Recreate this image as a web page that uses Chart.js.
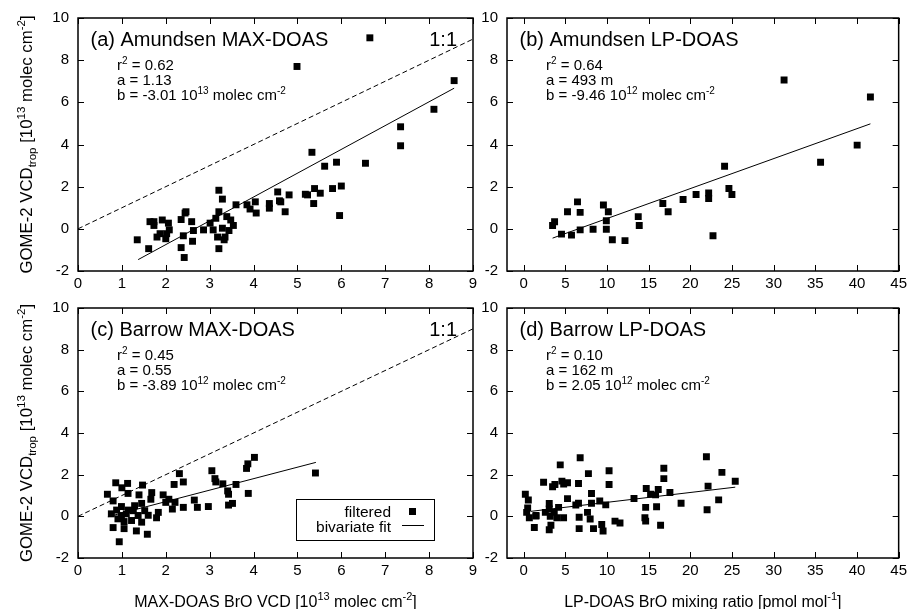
<!DOCTYPE html>
<html>
<head>
<meta charset="utf-8">
<script src="https://cdn.jsdelivr.net/npm/chart.js@4.4.1/dist/chart.umd.min.js"></script>
<style>
  body { margin: 0; background: #fff; width: 911px; height: 609px; position: relative; overflow: hidden; }
  canvas { position: absolute; }
</style>
</head>
<body>
<canvas id="stageA" width="490" height="300" style="left:0;top:0"></canvas>
<canvas id="stageB" width="436" height="300" style="left:475px;top:0"></canvas>
<canvas id="stageC" width="490" height="319" style="left:0;top:290px"></canvas>
<canvas id="stageD" width="436" height="319" style="left:475px;top:290px"></canvas>
<script>
// ---- tick labels ----
const ticksMax = [0, 1, 2, 3, 4, 5, 6, 7, 8, 9];
const ticksLp = [0, 5, 10, 15, 20, 25, 30, 35, 40, 45];
const ticksY = [-2, 0, 2, 4, 6, 8, 10];

// ---- (a) Amundsen MAX-DOAS ----
const amMaxX = [1.35, 1.61, 1.64, 1.73, 1.73, 1.80, 1.87, 1.92, 2.00, 2.02, 2.06, 2.08, 2.35, 2.35, 2.40, 2.42, 2.44, 2.46,
  2.59, 2.61, 2.63, 2.86, 3.01, 3.08, 3.14, 3.18, 3.21, 3.21, 3.21, 3.29, 3.29, 3.33, 3.35, 3.39, 3.44, 3.48, 3.54, 3.60,
  3.85, 3.92, 4.04, 4.06, 4.36, 4.36, 4.55, 4.59, 4.62, 4.72, 4.81, 4.99, 5.18, 5.23, 5.33, 5.37, 5.39, 5.52, 5.62, 5.80,
  5.89, 5.96, 6.00, 6.55, 6.65, 7.35, 7.35, 8.11, 8.57];
const amMaxY = [-0.52, -0.94, 0.34, 0.16, 0.34, -0.39, -0.23, 0.42, -0.47, -0.23, 0.27, -0.05, -0.89, 0.44, -0.33, -1.36, 0.75, 0.81,
  0.34, -0.59, -0.08, -0.05, 0.27, -0.05, 0.50, -0.39, 0.81, 1.83, -0.94, 1.41, 0.03, -0.52, -0.39, 0.58, -0.08, 0.42, 0.16, 1.14,
  1.14, 0.94, 1.28, 0.75, 1.20, 0.98, 1.75, 1.33, 1.28, 0.81, 1.61, 7.70, 1.64, 1.61, 3.63, 1.20, 1.91, 1.69, 2.97, 1.91,
  3.16, 0.63, 2.03, 3.11, 9.06, 3.94, 4.84, 5.67, 7.03];
const amMaxFitX = [1.37, 8.57];
const amMaxFitY = [-1.46, 6.67];

// ---- (b) Amundsen LP-DOAS ----
const amLpX = [3.47, 3.71, 4.54, 5.26, 5.74, 6.46, 6.78, 6.78, 8.33, 9.57, 9.92, 9.92, 10.16, 10.64, 12.16, 13.75, 13.87,
  16.70, 17.34, 19.13, 20.69, 22.20, 22.20, 22.72, 24.11, 24.63, 24.99, 31.25, 35.63, 40.02, 41.61];
const amLpY = [0.16, 0.34, -0.25, 0.81, -0.30, 1.28, 0.78, -0.05, -0.02, 1.13, 0.38, -0.02, 0.81, -0.52, -0.56, 0.58, 0.16,
  1.20, 0.81, 1.39, 1.63, 1.70, 1.44, -0.33, 2.97, 1.91, 1.63, 7.06, 3.16, 3.97, 6.25];
const amLpFitX = [3.47, 41.61];
const amLpFitY = [-0.44, 4.98];

// ---- (c) Barrow MAX-DOAS ----
const baMaxX = [4.02, 3.87, 3.84, 3.05, 2.31, 3.12, 3.14, 2.40, 2.19, 3.30, 3.60, 0.86, 1.13, 1.47, 1.00, 0.67, 1.14, 1.39,
  1.68, 3.41, 3.43, 3.88, 1.94, 1.66, 2.07, 2.00, 2.21, 2.65, 0.80, 1.45, 0.99, 2.15, 2.40, 2.72, 2.97, 3.52, 3.43, 1.83,
  1.26, 1.52, 0.76, 1.10, 1.37, 0.91, 1.22, 1.79, 1.45, 0.80, 1.05, 1.33, 1.58, 0.94, 5.41, 0.99, 1.29, 1.15, 0.88, 1.60, 1.05];
const baMaxY = [2.83, 2.52, 2.30, 2.19, 2.05, 1.81, 1.65, 1.65, 1.53, 1.56, 1.53, 1.61, 1.58, 1.50, 1.37, 1.06, 1.10, 1.03,
  1.14, 1.22, 1.06, 1.10, 1.03, 0.82, 0.82, 0.67, 0.67, 0.78, 0.74, 0.62, 0.47, 0.35, 0.43, 0.43, 0.47, 0.62, 0.54, 0.19,
  0.27, 0.27, 0.12, 0.12, 0.04, -0.12, -0.20, -0.07, -0.28, -0.54, -0.59, -0.70, -0.86, -1.22, 2.08, 0.04, 0.51, 0.30, 0.30, 0.05, -0.25];
const baMaxFitX = [0.68, 5.42];
const baMaxFitY = [-0.02, 2.59];

// ---- (d) Barrow LP-DOAS ----
const baLpX = [6.78, 21.93, 4.39, 16.82, 23.79, 10.25, 7.77, 16.82, 25.39, 2.39, 3.47, 3.75, 4.59, 5.26, 6.58, 10.25, 22.13,
  0.20, 8.14, 14.71, 16.15, 15.23, 15.83, 17.55, 0.56, 5.26, 13.24, 9.13, 8.14, 6.58, 6.26, 9.85, 3.07, 18.89, 23.40, 4.19,
  3.07, 14.64, 15.95, 22.01, 0.36, 1.48, 0.68, 2.60, 3.67, 4.79, 6.66, 7.98, 7.66, 14.55, 14.64, 10.96, 11.56, 1.28, 3.07,
  3.27, 6.66, 8.38, 9.37, 9.53, 16.43, 3.19, 0.48, 1.47, 3.99, 4.80];
const baLpY = [2.81, 2.86, 2.47, 2.31, 2.11, 2.19, 2.05, 1.81, 1.68, 1.64, 1.42, 1.53, 1.69, 1.61, 1.58, 1.53, 1.45,
  1.06, 1.10, 1.34, 1.29, 1.06, 1.03, 1.14, 0.78, 0.85, 0.86, 0.74, 0.63, 0.63, 0.54, 0.55, 0.62, 0.63, 0.79, 0.43,
  0.35, 0.43, 0.46, 0.32, 0.19, 0.04, -0.07, 0.19, 0.19, -0.07, -0.04, -0.13, 0.19, -0.07, -0.23, -0.23, -0.32, -0.54, -0.64,
  -0.43, -0.59, -0.59, -0.39, -0.70, -0.43, 0.00, 0.40, 0.01, -0.07, 1.55];
const baLpFitX = [0.88, 25.39];
const baLpFitY = [0.24, 1.40];

// 1:1 line
const oneX = [0, 9];
const oneY = [0, 9];

const FONT = "'Liberation Sans', Arial, Helvetica, sans-serif";

function pts(xs, ys) {
  return xs.map((v, i) => ({x: v, y: ys[i]}));
}

// テキスト(上付き・下付き付き)を描く
function drawRich(ctx, parts, x, y, align) {
  let w = 0;
  for (const p of parts) {
    ctx.font = p[1] + 'px ' + FONT;
    w += ctx.measureText(p[0]).width;
  }
  let cx = x;
  if (align === 'center') cx = x - w / 2;
  if (align === 'right') cx = x - w;
  ctx.textAlign = 'left';
  ctx.textBaseline = 'alphabetic';
  for (const p of parts) {
    ctx.font = p[1] + 'px ' + FONT;
    ctx.fillText(p[0], cx, y + (p[2] || 0));
    cx += ctx.measureText(p[0]).width;
  }
}

const yTitle = [['GOME-2 VCD', 16.8], ['trop', 11.5, 4], [' [10', 16.8], ['13', 11.5, -7], [' molec cm', 16.8], ['-2', 11.5, -7], [']', 16.8]];
const xTitleMax = [['MAX-DOAS BrO VCD [10', 16], ['13', 11, -7], [' molec cm', 16], ['-2', 11, -7], [']', 16]];
const xTitleLp = [['LP-DOAS BrO mixing ratio [pmol mol', 16], ['-1', 11, -7], [']', 16]];

function statLines(r2, a, b, exp) {
  return [
    [['r', 15], ['2', 10, -6], [' = ' + r2, 15]],
    [['a = ' + a, 15]],
    [['b = ' + b + ' 10', 15], [exp, 10, -6], [' molec cm', 15], ['-2', 10, -6]]
  ];
}

const framePlugin = {
  id: 'frame',
  afterDraw(chart) {
    const o = chart.options.plugins.frame;
    const {ctx, chartArea: a, scales: {x, y}} = chart;
    ctx.save();
    ctx.strokeStyle = '#000';
    ctx.fillStyle = '#000';
    // 内向きの目盛り
    ctx.lineWidth = 1;
    ctx.beginPath();
    for (const t of x.ticks) {
      const px = Math.round(x.getPixelForValue(t.value)) + 0.5;
      ctx.moveTo(px, a.bottom); ctx.lineTo(px, a.bottom - 6);
      ctx.moveTo(px, a.top); ctx.lineTo(px, a.top + 6);
    }
    for (const t of y.ticks) {
      const py = Math.round(y.getPixelForValue(t.value)) + 0.5;
      ctx.moveTo(a.left, py); ctx.lineTo(a.left + 6, py);
      ctx.moveTo(a.right, py); ctx.lineTo(a.right - 6, py);
    }
    ctx.stroke();
    ctx.lineWidth = 1.5;
    ctx.strokeRect(a.left, a.top, a.width, a.height);

    // パネル名
    drawRich(ctx, [[o.title, 20]], a.left + 12.5, a.top + 28, 'left');
    if (o.oneToOne) drawRich(ctx, [['1:1', 20]], a.right - 16, a.top + 28, 'right');
    o.stats.forEach((line, i) => drawRich(ctx, line, a.left + 39, a.top + 51.7 + i * 15, 'left'));

    if (o.yTitle) {
      ctx.save();
      ctx.translate(32, (a.top + a.bottom) / 2);
      ctx.rotate(-Math.PI / 2);
      drawRich(ctx, yTitle, 0, 0, 'center');
      ctx.restore();
    }
    if (o.xTitle) {
      drawRich(ctx, o.xTitle, (a.left + a.right) / 2, a.bottom + 49, 'center');
    }
    if (o.legend) {
      const bx = a.left + 218, by = a.top + 191;
      ctx.fillStyle = '#fff';
      ctx.fillRect(bx, by, 138, 41);
      ctx.fillStyle = '#000';
      ctx.lineWidth = 1;
      ctx.strokeRect(bx + 0.5, by + 0.5, 138, 41);
      drawRich(ctx, [['filtered', 15.5]], bx + 95, by + 17.5, 'right');
      drawRich(ctx, [['bivariate fit', 15.5]], bx + 95, by + 33, 'right');
      ctx.fillRect(bx + 113, by + 9, 7, 7);
      ctx.beginPath();
      ctx.moveTo(bx + 106, by + 26.5); ctx.lineTo(bx + 128, by + 26.5);
      ctx.stroke();
    }
    ctx.restore();
  }
};

function drawPanel(canv, cfg) {
  const datasets = [
    {
      label: 'filtered',
      data: pts(cfg.px, cfg.py),
      pointStyle: 'rect',
      pointRadius: 4.9,
      pointBorderWidth: 0,
      backgroundColor: '#000',
      borderColor: '#000'
    },
    {
      label: 'bivariate fit',
      data: pts(cfg.fx, cfg.fy),
      showLine: true,
      pointRadius: 0,
      borderColor: '#000',
      borderWidth: 1
    }
  ];
  if (cfg.oneToOne) {
    datasets.push({
      label: '1:1',
      data: pts(oneX, oneY),
      showLine: true,
      pointRadius: 0,
      borderColor: '#000',
      borderWidth: 1,
      borderDash: [5, 3]
    });
  }
  const tickFont = {family: FONT, size: 15};
  return new Chart(canv, {
    type: 'scatter',
    data: {datasets: datasets},
    plugins: [framePlugin],
    options: {
      responsive: false,
      animation: false,
      devicePixelRatio: 1,
      layout: {padding: {left: 0, top: cfg.padTop, right: cfg.padRight, bottom: 0}},
      plugins: {
        legend: {display: false},
        tooltip: {enabled: false},
        frame: {
          title: cfg.title, oneToOne: cfg.oneToOne, stats: cfg.stats,
          yTitle: cfg.yTitle, xTitle: cfg.xTitle, legend: cfg.legend
        }
      },
      scales: {
        x: {
          type: 'linear',
          min: cfg.xMin,
          max: cfg.xMax,
          afterBuildTicks: s => { s.ticks = cfg.xTicks.map(v => ({value: v})); },
          afterFit: s => { s.height = cfg.xHeight; },
          grid: {display: false, drawTicks: false},
          border: {display: false},
          ticks: {font: tickFont, color: '#000', padding: 4, maxRotation: 0, autoSkip: false}
        },
        y: {
          type: 'linear',
          min: -2,
          max: 10,
          afterBuildTicks: s => { s.ticks = ticksY.map(v => ({value: v})); },
          afterFit: s => { s.width = cfg.yWidth; },
          grid: {display: false, drawTicks: false},
          border: {display: false},
          ticks: {font: tickFont, color: '#000', padding: 9, autoSkip: false}
        }
      }
    }
  });
}

drawPanel(document.getElementById('stageA'), {
  px: amMaxX, py: amMaxY, fx: amMaxFitX, fy: amMaxFitY, oneToOne: true,
  xMin: 0, xMax: 9, xTicks: ticksMax, padTop: 15, padRight: 17, yWidth: 78, xHeight: 29,
  title: '(a) Amundsen MAX-DOAS', stats: statLines('0.62', '1.13', '-3.01', '13'),
  yTitle: true, xTitle: null, legend: false
});
drawPanel(document.getElementById('stageB'), {
  px: amLpX, py: amLpY, fx: amLpFitX, fy: amLpFitY, oneToOne: false,
  xMin: -2, xMax: 45, xTicks: ticksLp, padTop: 15, padRight: 9, yWidth: 32, xHeight: 29,
  title: '(b) Amundsen LP-DOAS', stats: statLines('0.64', '493 m', '-9.46', '12'),
  yTitle: false, xTitle: null, legend: false
});
drawPanel(document.getElementById('stageC'), {
  px: baMaxX, py: baMaxY, fx: baMaxFitX, fy: baMaxFitY, oneToOne: true,
  xMin: 0, xMax: 9, xTicks: ticksMax, padTop: 13, padRight: 17, yWidth: 78, xHeight: 51,
  title: '(c) Barrow MAX-DOAS', stats: statLines('0.45', '0.55', '-3.89', '12'),
  yTitle: true, xTitle: xTitleMax, legend: true
});
drawPanel(document.getElementById('stageD'), {
  px: baLpX, py: baLpY, fx: baLpFitX, fy: baLpFitY, oneToOne: false,
  xMin: -2, xMax: 45, xTicks: ticksLp, padTop: 13, padRight: 9, yWidth: 32, xHeight: 51,
  title: '(d) Barrow LP-DOAS', stats: statLines('0.10', '162 m', '2.05', '12'),
  yTitle: false, xTitle: xTitleLp, legend: false
});
</script>
</body>
</html>
